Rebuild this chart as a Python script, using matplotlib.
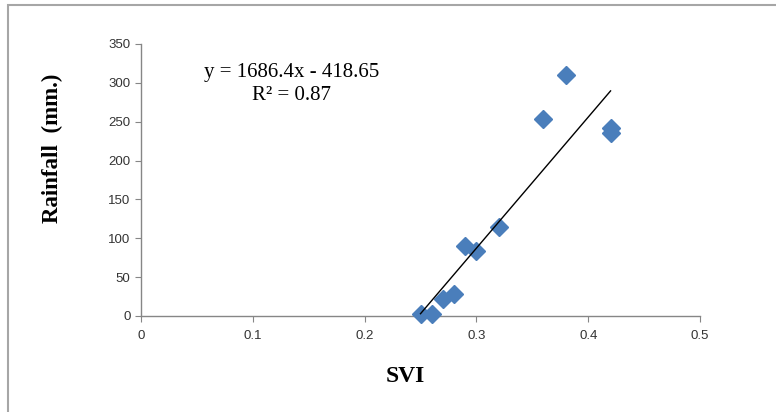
import matplotlib
matplotlib.use("Agg")
import matplotlib.pyplot as plt
from matplotlib.patches import Rectangle
import numpy as np

svi = [0.25, 0.26, 0.27, 0.28, 0.29, 0.30, 0.32, 0.36, 0.38, 0.42, 0.42]
rainfall = [2, 2, 22, 28, 90, 83, 114, 253, 310, 242, 236]
slope, intercept = 1686.4, -418.65
trend_x = [0.25, 0.42]
x_ticks = [0, 0.1, 0.2, 0.3, 0.4, 0.5]
y_ticks = [0, 50, 100, 150, 200, 250, 300, 350]

plt.rcParams['font.family'] = ['Liberation Serif', 'DejaVu Serif']

fig = plt.figure(figsize=(7.76, 4.12), dpi=100)
W, H = 776, 412
fig.patches.append(Rectangle((8 / W, 0 - 0.01), 1.0, 1 - 5 / H + 0.01, transform=fig.transFigure,
                             fill=False, edgecolor='#a6a6a6', linewidth=1.5))

ax = fig.add_axes([141 / W, 1 - 316 / H, (700 - 141) / W, (316 - 44) / H])
ax.set_xlim(0, 0.5)
ax.set_ylim(0, 350)
ax.set_xticks(x_ticks)
ax.set_xticklabels([f"{t:g}" for t in x_ticks])
ax.set_yticks(y_ticks)
for s in ['top', 'right']:
    ax.spines[s].set_visible(False)
for s in ['left', 'bottom']:
    ax.spines[s].set_color('#868686')
    ax.spines[s].set_linewidth(1.0)
ax.tick_params(axis='both', direction='out', length=4, color='#868686', labelsize=9.5, labelcolor='#333333')
ax.tick_params(axis='x', pad=6)
for lab in ax.get_xticklabels() + ax.get_yticklabels():
    lab.set_family(['Liberation Sans', 'DejaVu Sans'])

ax.plot(svi, rainfall, linestyle='none', marker='D', markersize=9.5, color='#4a7ebb',
        markeredgecolor='#4a7ebb', zorder=3, clip_on=False)
tx = np.array(trend_x)
ax.plot(tx, slope * tx + intercept, color='black', linewidth=1.0, zorder=4)

fig.text(292 / W, 1 - 73 / H, "y = 1686.4x - 418.65", ha='center', va='center', fontsize=15)
fig.text(292 / W, 1 - 96 / H, "R² = 0.87", ha='center', va='center', fontsize=15)

fig.text(405 / W, 1 - 376 / H, "SVI", ha='center', va='center', fontsize=17, fontweight='bold')
fig.text(52 / W, 1 - 148 / H, "Rainfall  (mm.)", ha='center', va='center', rotation=90,
         fontsize=16.5, fontweight='bold')

fig.savefig("out.png", dpi=100)
